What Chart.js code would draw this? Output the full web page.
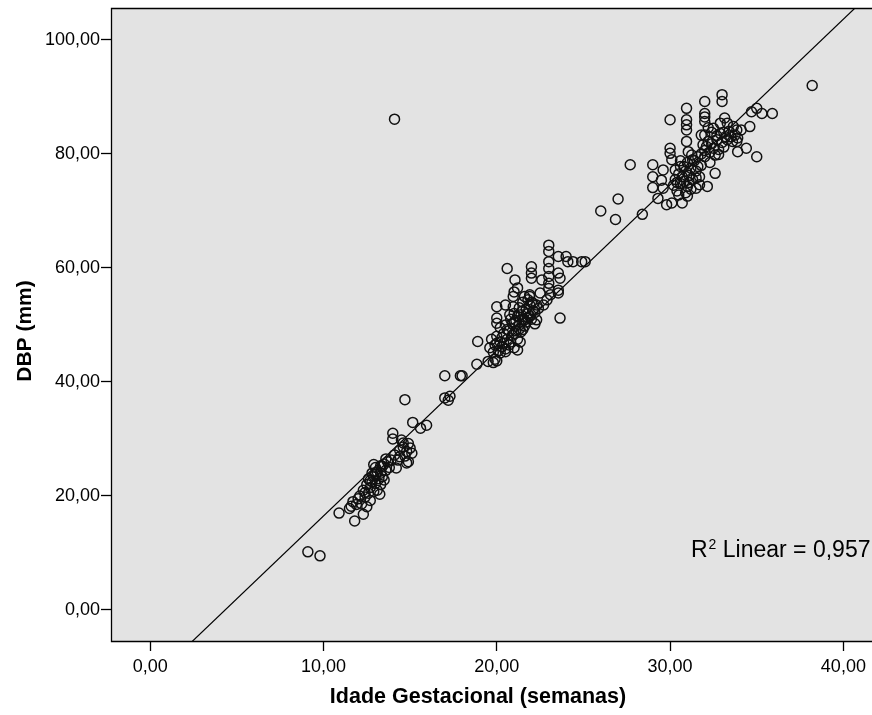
<!DOCTYPE html>
<html>
<head>
<meta charset="utf-8">
<script src="https://cdn.jsdelivr.net/npm/chart.js@4.4.1/dist/chart.umd.min.js"></script>
<style>
  html, body { margin: 0; padding: 0; background: #fff; overflow: hidden; }
  /* canvas a bit wider than the window: the plot runs off the right edge, as in the original */
  #wrap { width: 879px; height: 715px; }
</style>
</head>
<body>
<div id="wrap"><canvas id="scatterChart"></canvas></div>
<script>
// DBP vs gestational age scatter with linear fit (SPSS style)

// Gestational age (weeks)
const gestAge = [
  9.1, 9.8, 10.9, 11.5, 11.6, 11.8, 11.7, 11.9, 12.0, 12.1,
  12.2, 12.3, 12.3, 12.4, 12.5, 12.5, 12.6, 12.6, 12.7, 12.7,
  12.8, 12.8, 12.9, 12.9, 13.0, 13.0, 13.1, 13.1, 13.2, 13.25,
  13.3, 13.3, 13.4, 13.5, 13.5, 13.6, 13.7, 13.8, 13.9, 14.0,
  14.0, 14.1, 14.2, 14.3, 14.4, 14.5, 14.6, 14.7, 14.8, 14.8,
  14.9, 15.0, 15.1, 14.7, 14.1, 15.15, 15.6, 15.95, 17.0, 17.0,
  17.2, 17.3, 17.9, 18.0, 18.85, 18.9,
  12.4, 12.7, 13.0, 13.3, 13.6, 12.9, 13.4, 14.4, 14.6, 14.9,
  19.5, 19.8, 19.9, 20.0, 19.6, 19.7, 19.8, 20.0, 20.0, 20.1,
  20.2, 20.2, 20.3, 20.4, 20.5, 20.5, 20.6, 20.7, 20.7, 20.8,
  20.9, 21.0, 21.0, 21.0, 21.1, 21.2, 21.2, 21.3, 21.3, 21.4,
  21.5, 21.5, 21.6, 21.7, 21.8, 21.9, 22.0, 22.0, 22.1, 22.2,
  22.3, 22.3, 22.4, 22.7, 22.9, 21.2, 20.5, 20.0, 20.0, 20.0,
  20.5, 20.95, 20.95, 21.6, 21.9, 22.5, 23.1, 23.55, 20.6, 21.05,
  21.0, 22.0, 22.0, 22.0, 21.9, 21.8, 22.6, 23.0, 23.0, 23.0,
  23.0, 23.0, 23.0, 23.0, 23.55, 24.0, 24.1, 24.4, 24.9, 25.1,
  23.55, 23.65, 23.55, 23.65, 21.2, 21.5,
  19.9, 20.3, 20.6, 20.8, 21.0, 21.1, 21.3, 21.4, 21.6, 21.7,
  21.9, 22.1, 20.4, 20.9, 21.5, 21.8, 22.2, 20.2, 21.35, 20.75,
  26.0, 26.85, 27.0, 27.7, 28.4, 29.0, 29.0, 29.0, 29.3, 29.6,
  29.5, 29.6, 29.8, 30.1, 30.7, 30.0, 30.0, 30.0, 30.1, 30.3,
  30.6, 30.95, 30.95, 30.95, 30.95, 30.95, 31.05, 31.25, 31.5, 31.7,
  32.0, 32.0, 32.0, 32.0, 31.8, 32.0, 31.9, 32.1, 32.0, 32.15,
  32.6, 32.5, 32.7, 32.8, 33.0, 33.1, 33.2, 33.0, 33.0, 33.15,
  33.3, 32.9, 33.85, 33.75, 33.9, 33.85, 33.65, 34.1, 33.9, 34.4,
  34.6, 35.0, 34.7, 35.0, 35.3, 35.9, 38.2,
  30.2, 30.3, 30.4, 30.5, 30.6, 30.7, 30.8, 30.9, 31.0, 31.0,
  31.1, 31.2, 31.3, 31.4, 31.5, 31.6, 31.7, 30.5, 31.0,
  31.8, 32.2, 32.3, 32.4, 32.6, 32.9, 33.3, 33.4, 32.3, 32.5,
  30.4, 30.8, 31.1, 31.3, 31.5, 30.6, 31.2, 30.9, 31.6, 31.8,
  32.0, 32.4, 32.7, 33.1, 33.5, 32.2, 32.8, 33.6
];

// DBP (mm), same order as gestAge
const dbp = [
  10.2, 9.5, 17.0, 17.8, 18.2, 15.6, 19.0, 18.5, 19.5, 20.0,
  18.6, 16.8, 21.0, 19.8, 18.1, 22.0, 20.5, 23.0, 21.5, 19.2,
  24.0, 22.5, 20.8, 23.5, 25.0, 22.2, 24.2, 21.0, 23.0, 20.3,
  25.3, 24.0, 23.4, 22.8, 25.6, 24.5, 26.0, 25.0, 26.3, 31.0,
  30.0, 27.2, 24.9, 26.3, 28.0, 29.8, 29.3, 27.0, 27.8, 25.8,
  26.0, 28.4, 27.5, 36.9, 86.1, 32.9, 31.9, 32.4, 41.1, 37.2,
  36.8, 37.5, 41.1, 41.1, 43.1, 47.1,
  20.6, 22.7, 23.8, 22.0, 26.5, 25.5, 25.2, 26.9, 28.6, 29.2,
  43.6, 43.4, 44.0, 43.7, 46.0, 47.5, 45.2, 46.8, 48.0, 45.5,
  47.0, 49.5, 46.2, 48.5, 45.8, 50.0, 47.5, 46.5, 49.0, 51.0,
  48.2, 46.0, 50.5, 52.0, 49.0, 51.5, 47.5, 50.0, 53.0, 48.8,
  51.0, 52.5, 49.8, 50.5, 52.0, 53.5, 51.0, 54.0, 52.5, 50.2,
  53.5, 50.9, 52.9, 53.5, 54.4, 45.6, 45.3, 53.2, 51.2, 50.3,
  53.5, 55.0, 53.2, 55.0, 55.0, 55.6, 55.3, 55.6, 59.9, 57.9,
  55.8, 60.2, 59.1, 58.2, 55.3, 54.4, 57.9, 64.0, 62.9, 61.1,
  59.9, 58.5, 57.3, 56.4, 62.0, 62.0, 61.1, 61.1, 61.1, 61.1,
  59.1, 58.2, 56.1, 51.2, 56.5, 54.0,
  46.5, 47.8, 49.2, 47.0, 48.5, 50.8, 49.3, 51.8, 50.9, 52.8,
  51.5, 53.8, 46.8, 50.2, 49.2, 51.2, 52.2, 45.1, 47.0, 51.8,
  70.0, 68.5, 72.1, 78.1, 69.4, 78.1, 76.0, 74.1, 72.2, 77.2,
  75.4, 74.0, 71.1, 71.4, 71.4, 86.0, 81.0, 80.1, 79.0, 77.2,
  77.8, 88.0, 86.0, 85.1, 84.2, 82.2, 80.4, 79.8, 74.0, 74.6,
  89.2, 87.1, 86.5, 85.7, 83.3, 83.3, 81.6, 81.3, 79.5, 74.3,
  76.6, 81.0, 82.5, 80.8, 82.0, 81.2, 83.0, 90.4, 89.2, 86.3,
  85.4, 85.4, 84.2, 83.3, 82.8, 82.2, 84.8, 84.2, 80.4, 81.0,
  84.8, 79.5, 87.4, 88.0, 87.1, 87.1, 92.0,
  74.5, 75.5, 73.5, 76.5, 74.8, 76.0, 75.2, 77.0, 74.3, 78.5,
  76.2, 77.5, 75.5, 78.8, 77.0, 79.5, 76.0, 72.8, 72.6,
  80.0, 82.2, 80.3, 83.8, 79.8, 83.6, 82.5, 84.0, 78.5, 84.5,
  75.0, 77.8, 75.0, 79.0, 75.8, 78.8, 73.8, 73.2, 77.8, 78.0,
  80.6, 81.8, 83.2, 83.8, 83.0, 84.6, 79.9, 82.2
];

// Axis ticks
const xTicks = [0, 10, 20, 30, 40];
const yTicks = [0, 20, 40, 60, 80, 100];

// Axis ranges as shown
const xMin = -2.26, xMax = 41.68;
const yMin = -5.44, yMax = 105.6;

// Linear fit shown on the chart
const fitIntercept = -12.56;
const fitSlope = 2.905;
const rSquaredLabel = '0,957';

const xTitle = 'Idade Gestacional (semanas)';
const yTitle = 'DBP (mm)';

const points = gestAge.map((x, i) => ({ x: x, y: dbp[i] }));
const fitLine = [xMin, xMax].map((x) => ({ x: x, y: fitIntercept + fitSlope * x }));

const fmt = (v) => v.toFixed(2).replace('.', ',');
const FONT = '"Liberation Sans", Arial, sans-serif';

// grey plot background, frame, axis titles and the R² note
const plotDecor = {
  id: 'plotDecor',
  beforeDatasetsDraw(chart) {
    const { ctx, chartArea: a } = chart;
    ctx.save();
    ctx.fillStyle = '#e3e3e3';
    ctx.fillRect(a.left, a.top, a.right - a.left + 10, a.bottom - a.top);
    ctx.restore();
  },
  afterDraw(chart) {
    const { ctx, chartArea: a } = chart;
    ctx.save();
    ctx.strokeStyle = '#000';
    ctx.lineWidth = 1.3;
    ctx.beginPath();
    ctx.moveTo(a.right + 10, a.top + 0.5);
    ctx.lineTo(a.left + 0.5, a.top + 0.5);
    ctx.lineTo(a.left + 0.5, a.bottom + 0.5);
    ctx.lineTo(a.right + 10, a.bottom + 0.5);
    ctx.stroke();

    ctx.fillStyle = '#000';

    // axis titles
    ctx.font = 'bold 21.5px ' + FONT;
    ctx.textAlign = 'center';
    ctx.textBaseline = 'middle';
    ctx.fillText(xTitle, 478, 697);
    ctx.save();
    ctx.translate(25, 331);
    ctx.rotate(-Math.PI / 2);
    ctx.font = 'bold 21px ' + FONT;
    ctx.fillText(yTitle, 0, 0);
    ctx.restore();

    // R² Linear = 0,957
    ctx.textBaseline = 'alphabetic';
    ctx.textAlign = 'left';
    let x = 691, y = 557;
    ctx.font = '23px ' + FONT;
    ctx.fillText('R', x, y);
    x += ctx.measureText('R').width;
    ctx.font = '14px ' + FONT;
    ctx.fillText('2', x + 1, y - 8);
    x += ctx.measureText('2').width + 1;
    ctx.font = '23px ' + FONT;
    ctx.fillText(' Linear = ' + rSquaredLabel, x, y);
    ctx.restore();
  }
};

const noPad = (scale) => {
  scale.paddingLeft = 0;
  scale.paddingRight = 0;
  scale.paddingTop = 0;
  scale.paddingBottom = 0;
};

const ctx = document.getElementById('scatterChart').getContext('2d');

new Chart(ctx, {
  type: 'scatter',
  data: {
    datasets: [
      {
        label: 'DBP',
        data: points,
        pointStyle: 'circle',
        pointRadius: 5,
        pointBorderWidth: 1.5,
        borderColor: '#111',
        backgroundColor: 'rgba(0,0,0,0)',
        pointHoverRadius: 5
      },
      {
        type: 'line',
        label: 'Fit',
        data: fitLine,
        borderColor: '#000',
        borderWidth: 1.2,
        pointRadius: 0,
        fill: false
      }
    ]
  },
  options: {
    responsive: true,
    maintainAspectRatio: false,
    animation: false,
    layout: { padding: { top: 8, right: 0, left: 0, bottom: 0 } },
    plugins: {
      legend: { display: false },
      tooltip: { enabled: false }
    },
    scales: {
      x: {
        type: 'linear',
        min: xMin,
        max: xMax,
        afterBuildTicks: (scale) => { scale.ticks = xTicks.map((v) => ({ value: v })); },
        afterFit: (scale) => { scale.height = 74; noPad(scale); },
        grid: {
          drawOnChartArea: false,
          drawTicks: true,
          tickLength: 10,
          tickWidth: 1.3,
          tickColor: '#000'
        },
        border: { display: false },
        ticks: {
          callback: (v) => fmt(v),
          color: '#000',
          padding: 5,
          maxRotation: 0,
          font: { family: FONT, size: 18 }
        },
        title: { display: false }
      },
      y: {
        type: 'linear',
        min: yMin,
        max: yMax,
        afterBuildTicks: (scale) => { scale.ticks = yTicks.map((v) => ({ value: v })); },
        afterFit: (scale) => { scale.width = 111; noPad(scale); },
        grid: {
          drawOnChartArea: false,
          drawTicks: true,
          tickLength: 10,
          tickWidth: 1.3,
          tickColor: '#000'
        },
        border: { display: false },
        ticks: {
          callback: (v) => fmt(v),
          color: '#000',
          padding: 1,
          font: { family: FONT, size: 18 }
        },
        title: { display: false }
      }
    }
  },
  plugins: [plotDecor]
});
</script>
</body>
</html>
